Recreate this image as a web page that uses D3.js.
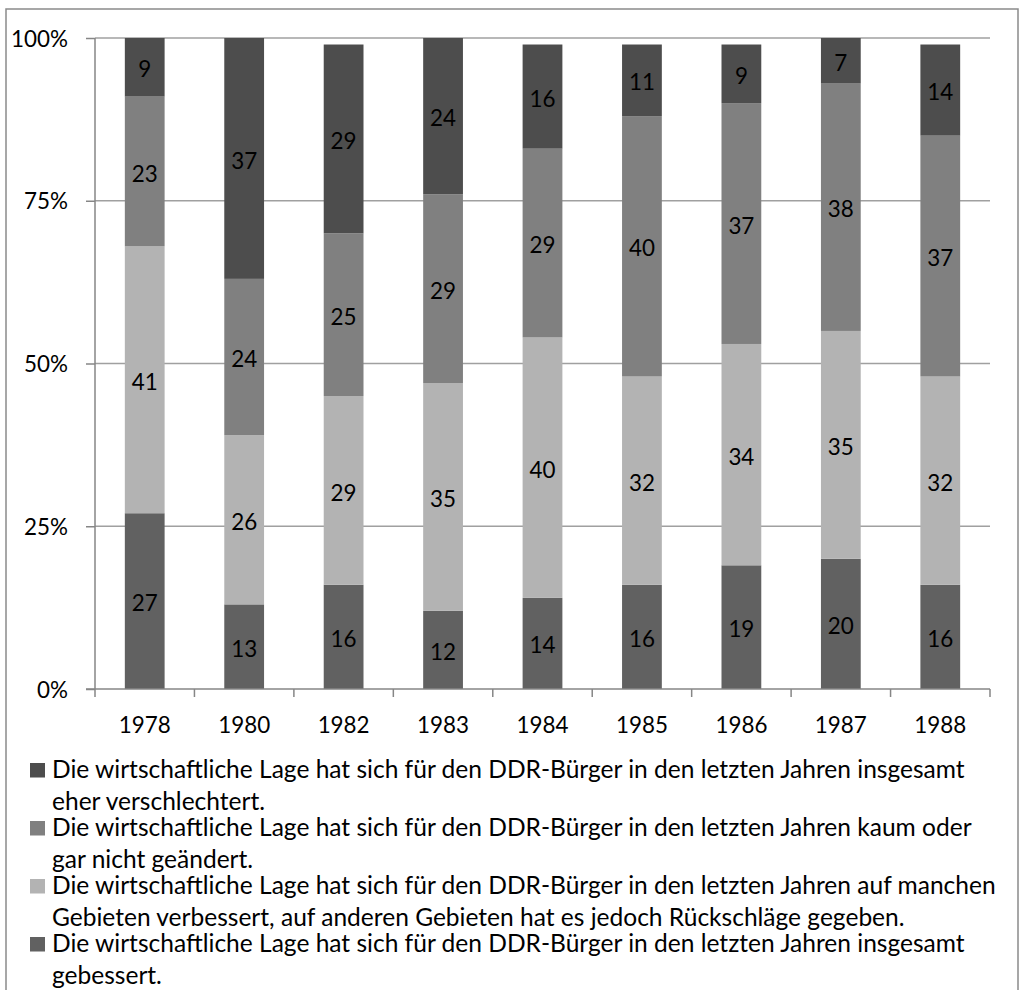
<!DOCTYPE html>
<html>
<head>
<meta charset="utf-8">
<script src="https://cdn.jsdelivr.net/npm/d3@7"></script>
<style>
  html, body { margin: 0; padding: 0; background: #fff; }
  svg { display: block; }
</style>
</head>
<body>
<svg id="chart" width="1020" height="990"></svg>
<script>
// ---- data ----
const years = ["1978", "1980", "1982", "1983", "1984", "1985", "1986", "1987", "1988"];
const gebessert       = [27, 13, 16, 12, 14, 16, 19, 20, 16];
const teilsVerbessert = [41, 26, 29, 35, 40, 32, 34, 35, 32];
const kaumGeaendert   = [23, 24, 25, 29, 29, 40, 37, 38, 37];
const verschlechtert  = [9, 37, 29, 24, 16, 11, 9, 7, 14];
const yTicks = [0, 25, 50, 75, 100];
// legend entries (top series first), with the original line breaks
const legendLines = [
  ["Die wirtschaftliche Lage hat sich für den DDR-Bürger in den letzten Jahren insgesamt", "eher verschlechtert."],
  ["Die wirtschaftliche Lage hat sich für den DDR-Bürger in den letzten Jahren kaum oder", "gar nicht geändert."],
  ["Die wirtschaftliche Lage hat sich für den DDR-Bürger in den letzten Jahren auf manchen", "Gebieten verbessert, auf anderen Gebieten hat es jedoch Rückschläge gegeben."],
  ["Die wirtschaftliche Lage hat sich für den DDR-Bürger in den letzten Jahren insgesamt", "gebessert."]
];
const seriesValues = [gebessert, teilsVerbessert, kaumGeaendert, verschlechtert];
const colors = ["#616161", "#b3b3b3", "#808080", "#4d4d4d"];

(function () {
  const FONT = "Lato, 'Open Sans', sans-serif";
  const svg = d3.select("#chart");

  function measure(text, size) {
    const t = svg.append("text").attr("font-family", FONT).attr("font-size", size).text(text);
    const w = t.node().getComputedTextLength();
    t.remove();
    return w;
  }
  const numSize = 100 * 52 / measure("1978", 100);
  const legSize = 100 * 913 / measure(legendLines[0][0], 100);

  const pL = 95, pR = 990, pT = 38, pB = 689;

  const x = d3.scaleBand().domain(years).range([pL, pR]).paddingInner(0.6).paddingOuter(0.3);
  const y = d3.scaleLinear().domain([0, 100]).range([pB, pT]);

  // outer border
  svg.append("rect").attr("x", 6).attr("y", 9).attr("width", 1012).attr("height", 1000)
    .attr("fill", "none").attr("stroke", "#8a8a8a").attr("stroke-width", 1.5);

  // gridlines
  svg.append("g").selectAll("line").data(yTicks.filter(d => d > 0)).join("line")
    .attr("x1", pL).attr("x2", pR)
    .attr("y1", d => y(d)).attr("y2", d => y(d))
    .attr("stroke", "#a0a0a0").attr("stroke-width", 1.5);

  const table = years.map((yr, i) => {
    const o = { year: yr };
    seriesValues.forEach((s, k) => o["s" + k] = s[i]);
    return o;
  });
  const stacked = d3.stack().keys(seriesValues.map((s, k) => "s" + k))(table);

  const gBars = svg.append("g");
  stacked.forEach((layer, k) => {
    const g = gBars.append("g");
    g.selectAll("rect").data(layer).join("rect")
      .attr("fill", colors[k])
      .attr("x", d => x(d.data.year))
      .attr("width", x.bandwidth())
      .attr("y", d => y(d[1]))
      .attr("height", d => y(d[0]) - y(d[1]));
  });
  stacked.forEach((layer, k) => {
    gBars.append("g").selectAll("text").data(layer).join("text")
      .attr("x", d => x(d.data.year) + x.bandwidth() / 2)
      .attr("y", d => (y(d[0]) + y(d[1])) / 2 + 2 + numSize * 0.36)
      .attr("text-anchor", "middle")
      .attr("font-family", FONT).attr("font-size", numSize)
      .attr("fill", "#000")
      .text(d => d[1] - d[0]);
  });

  // y axis
  const yAxis = svg.append("g").attr("transform", `translate(${pL},0)`)
    .call(d3.axisLeft(y).tickValues(yTicks).tickFormat(d => d + "%").tickSize(9).tickPadding(18));
  yAxis.select(".domain").attr("stroke", "#868686").attr("stroke-width", 1.5).attr("d", `M0,${pT}V${pB}`);
  yAxis.selectAll(".tick line").attr("stroke", "#868686").attr("stroke-width", 1.5);
  yAxis.selectAll(".tick text").attr("font-family", FONT).attr("font-size", numSize).attr("fill", "#000")
    .attr("dy", null).attr("y", numSize * 0.36);

  // x axis
  const xAxis = svg.append("g").attr("transform", `translate(0,${pB})`)
    .call(d3.axisBottom(x).tickSize(0).tickPadding(0));
  xAxis.select(".domain").attr("stroke", "#868686").attr("stroke-width", 1.5).attr("d", `M${pL - 9},0H${pR}`);
  xAxis.selectAll(".tick text").attr("font-family", FONT).attr("font-size", numSize).attr("fill", "#000")
    .attr("dy", null).attr("y", 44);
  const bounds = d3.range(years.length + 1).map(i => pL + i * x.step());
  xAxis.append("g").selectAll("line").data(bounds).join("line")
    .attr("x1", d => d).attr("x2", d => d).attr("y1", 0).attr("y2", 8)
    .attr("stroke", "#868686").attr("stroke-width", 1.5);

  // legend
  const legendOrder = [3, 2, 1, 0];
  const leg = svg.append("g");
  legendOrder.forEach((k, i) => {
    const base = 778 + i * 58;
    leg.append("rect").attr("x", 30).attr("y", base - 15).attr("width", 15).attr("height", 14.5).attr("fill", colors[k]);
    legendLines[i].forEach((line, j) => {
      leg.append("text").attr("x", 52).attr("y", base + j * 31.5)
        .attr("font-family", FONT).attr("font-size", legSize).attr("fill", "#000")
        .text(line);
    });
  });
})();
</script>
</body>
</html>
